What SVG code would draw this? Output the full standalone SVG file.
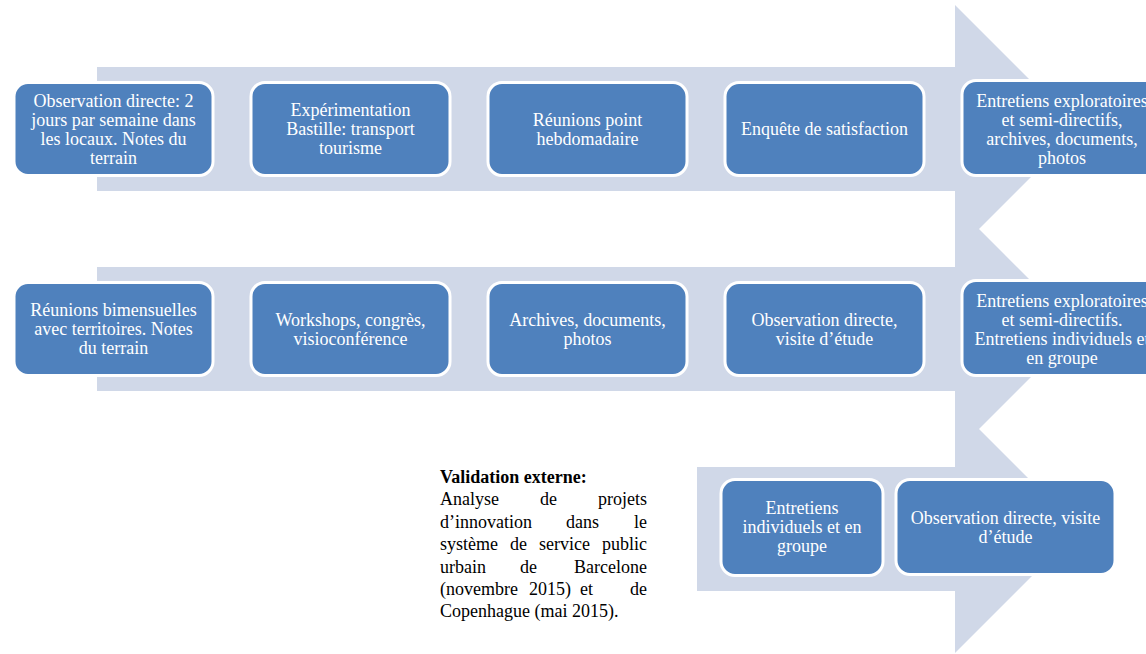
<svg xmlns="http://www.w3.org/2000/svg" width="1146" height="654" viewBox="0 0 1146 654">
<style>
.arrow{fill:#D0D8E8;stroke:none}
.box{fill:#4F81BD;stroke:#FFFFFF;stroke-width:3}
.bt{font-family:"Liberation Serif","Times New Roman",serif;font-size:18px;fill:#FFFFFF;text-anchor:middle}
.vt{font-family:"Liberation Serif","Times New Roman",serif;font-size:18px;fill:#000000}
.vb{font-weight:bold}
.e{text-anchor:end}
</style>
<rect width="1146" height="654" fill="#FFFFFF"/>
<g id="connectors">
<path class="arrow" d="M97,67 H955 V5 L1079,129 L955,253 V191 H97 Z"/>
<path class="arrow" d="M97,267 H955 V205 L1079,329 L955,453 V391 H97 Z"/>
<path class="arrow" d="M697,467 H955 V405 L1079,529 L955,653 V591 H697 Z"/>
</g>
<g id="n1">
<rect class="box" x="14" y="82.5" width="199" height="93" rx="14"/>
<text class="bt" x="113.5"><tspan x="113.5" y="106.5">Observation directe: 2</tspan><tspan x="113.5" y="125.5">jours par semaine dans</tspan><tspan x="113.5" y="144.5">les locaux. Notes du</tspan><tspan x="113.5" y="163.5">terrain</tspan></text>
</g>
<g id="n2">
<rect class="box" x="251" y="82.5" width="199" height="93" rx="14"/>
<text class="bt"><tspan x="350.5" y="116">Expérimentation</tspan><tspan x="350.5" y="135">Bastille: transport</tspan><tspan x="350.5" y="154">tourisme</tspan></text>
</g>
<g id="n3">
<rect class="box" x="488" y="82.5" width="199" height="93" rx="14"/>
<text class="bt"><tspan x="587.5" y="125.5">Réunions point</tspan><tspan x="587.5" y="144.5">hebdomadaire</tspan></text>
</g>
<g id="n4">
<rect class="box" x="725" y="82.5" width="199" height="93" rx="14"/>
<text class="bt"><tspan x="824.5" y="135">Enquête de satisfaction</tspan></text>
</g>
<g id="n5">
<rect class="box" x="962" y="80.5" width="200" height="95" rx="14"/>
<text class="bt"><tspan x="1062" y="106.5">Entretiens exploratoires</tspan><tspan x="1062" y="125.5">et semi-directifs,</tspan><tspan x="1062" y="144.5">archives, documents,</tspan><tspan x="1062" y="163.5">photos</tspan></text>
</g>
<g id="n6">
<rect class="box" x="14" y="282.5" width="199" height="93" rx="14"/>
<text class="bt"><tspan x="113.5" y="316">Réunions bimensuelles</tspan><tspan x="113.5" y="335">avec territoires. Notes</tspan><tspan x="113.5" y="354">du terrain</tspan></text>
</g>
<g id="n7">
<rect class="box" x="251" y="282.5" width="199" height="93" rx="14"/>
<text class="bt"><tspan x="350.5" y="325.5">Workshops, congrès,</tspan><tspan x="350.5" y="344.5">visioconférence</tspan></text>
</g>
<g id="n8">
<rect class="box" x="488" y="282.5" width="199" height="93" rx="14"/>
<text class="bt"><tspan x="587.5" y="325.5">Archives, documents,</tspan><tspan x="587.5" y="344.5">photos</tspan></text>
</g>
<g id="n9">
<rect class="box" x="725" y="282.5" width="199" height="93" rx="14"/>
<text class="bt"><tspan x="824.5" y="325.5">Observation directe,</tspan><tspan x="824.5" y="344.5">visite d’étude</tspan></text>
</g>
<g id="n10">
<rect class="box" x="962" y="280.5" width="200" height="95" rx="14"/>
<text class="bt"><tspan x="1062" y="306.5">Entretiens exploratoires</tspan><tspan x="1062" y="325.5">et semi-directifs.</tspan><tspan x="1062" y="344.5">Entretiens individuels et</tspan><tspan x="1062" y="363.5">en groupe</tspan></text>
</g>
<g id="n11">
<rect class="box" x="721" y="479.5" width="162" height="96" rx="14"/>
<text class="bt"><tspan x="802" y="514">Entretiens</tspan><tspan x="802" y="533">individuels et en</tspan><tspan x="802" y="552">groupe</tspan></text>
</g>
<g id="n12">
<rect class="box" x="896" y="479.5" width="219" height="95" rx="14"/>
<text class="bt"><tspan x="1005.5" y="524">Observation directe, visite</tspan><tspan x="1005.5" y="543">d’étude</tspan></text>
</g>
<g id="validation">
<text class="vt vb" x="440" y="483">Validation externe:</text>
<text class="vt" x="440" y="505.4">Analyse</text>
<text class="vt" x="540" y="505.4">de</text>
<text class="vt e" x="647" y="505.4">projets</text>
<text class="vt" x="440" y="527.8">d’innovation</text>
<text class="vt" x="566" y="527.8">dans</text>
<text class="vt e" x="647" y="527.8">le</text>
<text class="vt" x="440" y="550.2">système</text>
<text class="vt" x="510" y="550.2">de</text>
<text class="vt" x="539" y="550.2">service</text>
<text class="vt e" x="647" y="550.2">public</text>
<text class="vt" x="440" y="572.6">urbain</text>
<text class="vt" x="520" y="572.6">de</text>
<text class="vt e" x="647" y="572.6">Barcelone</text>
<text class="vt" x="440" y="595">(novembre</text>
<text class="vt" x="529" y="595">2015)</text>
<text class="vt" x="580" y="595">et</text>
<text class="vt e" x="647" y="595">de</text>
<text class="vt" x="440" y="617.4">Copenhague (mai 2015).</text>
</g>
</svg>
